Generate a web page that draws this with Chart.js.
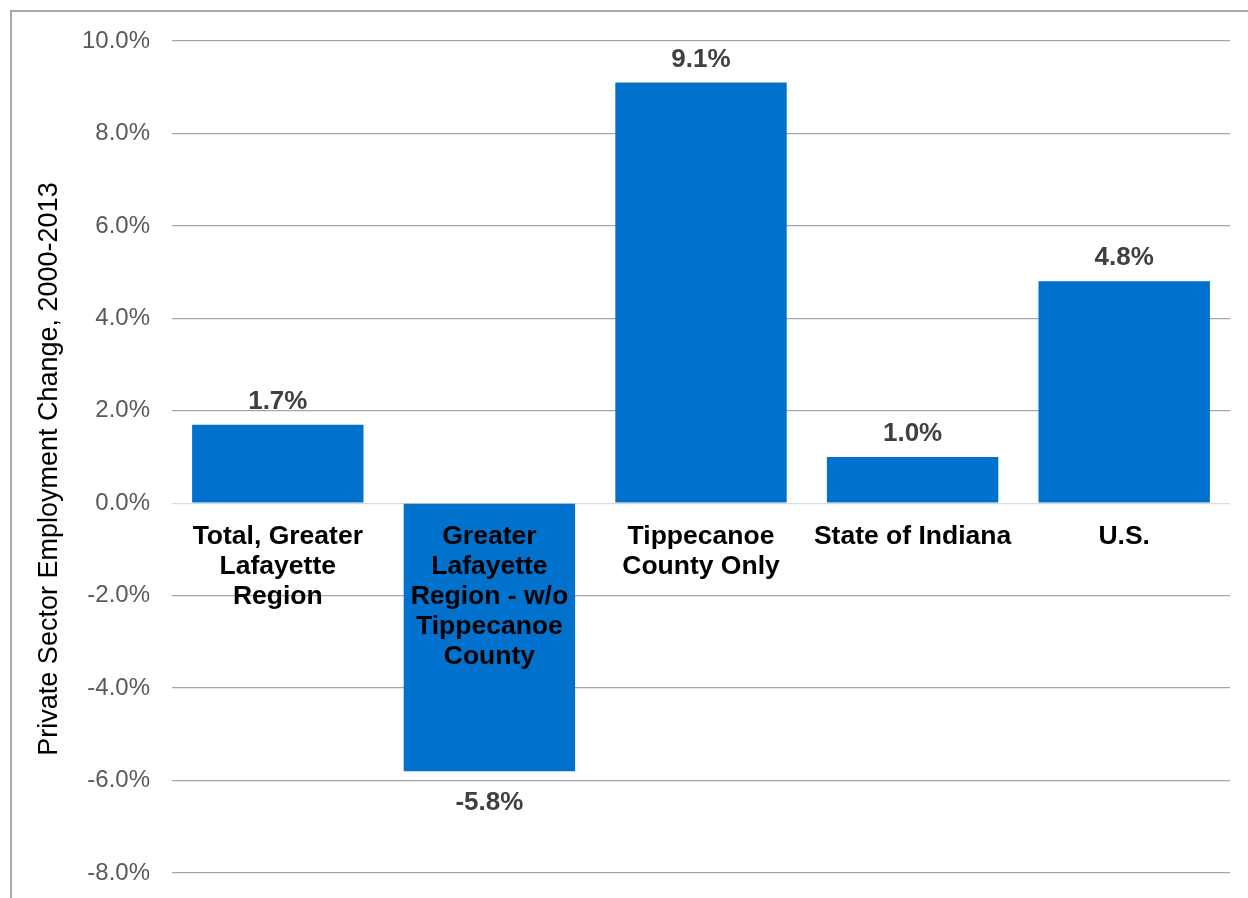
<!DOCTYPE html>
<html>
<head>
<meta charset="utf-8">
<style>
  html, body { margin: 0; padding: 0; background: #ffffff; }
  #wrap { width: 1248px; height: 898px; position: relative; }
  canvas { display: block; }
</style>
<script src="https://cdn.jsdelivr.net/npm/chart.js@4.4.1/dist/chart.umd.min.js"></script>
</head>
<body>
<div id="wrap"><canvas id="chart" width="1248" height="898"></canvas></div>
<script>
// Private sector employment change, 2000-2013 (percent)
const categories = [
  ['Total, Greater', 'Lafayette', 'Region'],
  ['Greater', 'Lafayette', 'Region - w/o', 'Tippecanoe', 'County'],
  ['Tippecanoe', 'County Only'],
  ['State of Indiana'],
  ['U.S.']
];
const changePct = [1.7, -5.8, 9.1, 1.0, 4.8];
const valueLabels = ['1.7%', '-5.8%', '9.1%', '1.0%', '4.8%'];
const axisTitle = 'Private Sector Employment Change, 2000-2013';
const yMin = -8, yMax = 10, yStep = 2;

const FONT = '"Liberation Sans", Arial, Helvetica, sans-serif';
const BAR_BLUE = '#0072CE';

// Thin frame along the top and left edges
const framePlugin = {
  id: 'frame',
  beforeDraw(chart) {
    const ctx = chart.ctx;
    ctx.save();
    ctx.strokeStyle = '#a9a9a9';
    ctx.lineWidth = 2;
    ctx.beginPath();
    ctx.moveTo(11, chart.height);
    ctx.lineTo(11, 11);
    ctx.lineTo(chart.width, 11);
    ctx.stroke();
    ctx.restore();
  }
};

// Rotated value-axis title to the left of the tick labels
const axisTitlePlugin = {
  id: 'axisTitle',
  afterDraw(chart) {
    const ctx = chart.ctx;
    const area = chart.chartArea;
    ctx.save();
    ctx.translate(50, (area.top + area.bottom) / 2 + 12);
    ctx.rotate(-Math.PI / 2);
    ctx.font = '27px ' + FONT;
    ctx.fillStyle = '#000000';
    ctx.textAlign = 'center';
    ctx.textBaseline = 'middle';
    ctx.fillText(axisTitle, 0, 0);
    ctx.restore();
  }
};

// Value labels just beyond the end of each bar
const valueLabelPlugin = {
  id: 'valueLabels',
  afterDatasetsDraw(chart) {
    const ctx = chart.ctx;
    const meta = chart.getDatasetMeta(0);
    ctx.save();
    ctx.font = 'bold 26px ' + FONT;
    ctx.fillStyle = '#404040';
    ctx.textAlign = 'center';
    ctx.textBaseline = 'alphabetic';
    meta.data.forEach((bar, i) => {
      const v = changePct[i];
      const y = v >= 0 ? bar.y - 16 : bar.y + 39;
      ctx.fillText(valueLabels[i], bar.x, y);
    });
    ctx.restore();
  }
};

new Chart(document.getElementById('chart'), {
  type: 'bar',
  data: {
    labels: categories,
    datasets: [{
      data: changePct,
      backgroundColor: BAR_BLUE,
      borderWidth: 0,
      barPercentage: 0.81,
      categoryPercentage: 1.0
    }]
  },
  options: {
    responsive: false,
    animation: false,
    devicePixelRatio: 1,
    layout: { padding: { top: 41, right: 18, bottom: 25, left: 0 } },
    plugins: {
      legend: { display: false },
      tooltip: { enabled: false },
      title: { display: false }
    },
    scales: {
      x: {
        position: { y: 0 },
        grid: { display: false, drawTicks: false },
        border: { display: false },
        ticks: {
          z: 1,
          color: '#000000',
          padding: 18,
          maxRotation: 0,
          autoSkip: false,
          font: { family: FONT, size: 26.5, weight: 'bold', lineHeight: 1.14 }
        }
      },
      y: {
        min: yMin,
        max: yMax,
        afterFit(scale) { scale.width = 172; },
        border: { display: false },
        grid: {
          drawTicks: true,
          tickLength: 22,
          tickColor: 'rgba(0,0,0,0)',
          lineWidth: 1.3,
          color: ctx => (ctx.tick && ctx.tick.value === 0) ? '#d9d9d9' : '#a6a6a6'
        },
        ticks: {
          stepSize: yStep,
          padding: 0,
          color: '#595959',
          font: { family: FONT, size: 24 },
          callback: v => v.toFixed(1) + '%'
        },
        title: { display: false }
      }
    }
  },
  plugins: [framePlugin, valueLabelPlugin, axisTitlePlugin]
});
</script>
</body>
</html>
